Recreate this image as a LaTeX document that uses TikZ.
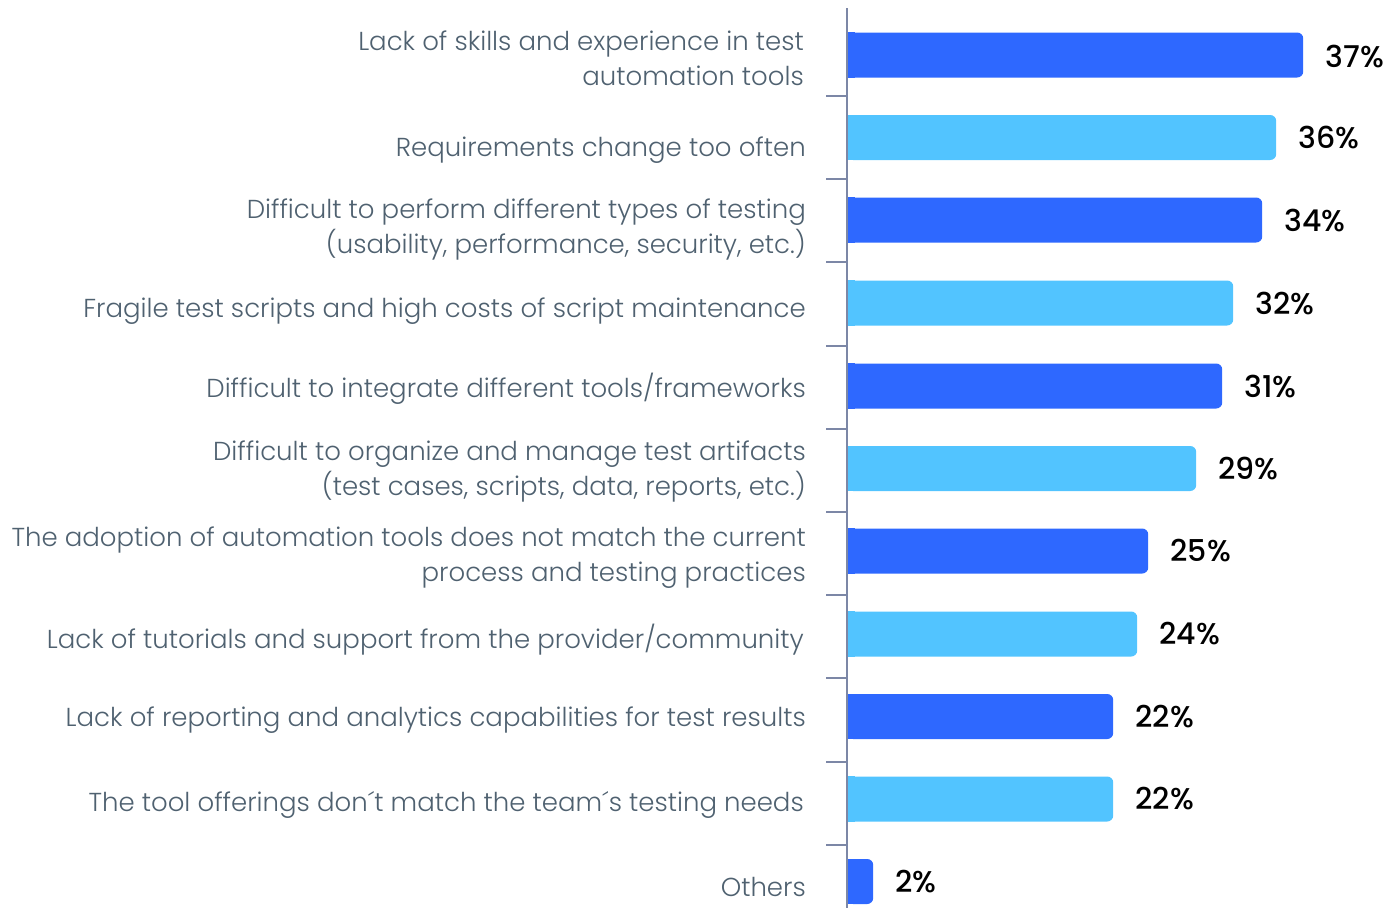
\documentclass[tikz,border=0pt]{standalone}
\usepackage{fontspec}
\setmainfont{Poppins}[UprightFont=* Light, BoldFont=* Medium]
\usetikzlibrary{positioning}

\definecolor{darkbar}{HTML}{2E68FF}
\definecolor{lightbar}{HTML}{52C4FF}
\definecolor{axisgray}{HTML}{7C87A6}
\definecolor{labelgray}{HTML}{4F6170}

\tikzset{
	bar/.style={fill=#1, rounded corners=6pt, anchor=west, inner sep=0pt, minimum height=45pt},
	lbl/.style={text=labelgray, align=right, inner sep=0pt, font=\fontsize{26}{35}\selectfont},
	pct/.style={text=black, inner sep=0pt, font=\fontsize{30}{35}\selectfont\bfseries},
	tick/.style={draw=axisgray, line width=2pt},
}

\begin{document}
\begin{tikzpicture}[x=1pt, y=-1pt]
	\useasboundingbox (0,0) rectangle (1389,908);

	% bars
	\node[bar=darkbar, minimum width=456pt]		(bar1)	at (847,55)		{};
	\node[bar=lightbar, minimum width=429pt]	(bar2)	at (847,137.5)	{};
	\node[bar=darkbar, minimum width=415pt]		(bar3)	at (847,220)	{};
	\node[bar=lightbar, minimum width=386pt]	(bar4)	at (847,303)	{};
	\node[bar=darkbar, minimum width=375pt]		(bar5)	at (847,386)	{};
	\node[bar=lightbar, minimum width=349pt]	(bar6)	at (847,468.5)	{};
	\node[bar=darkbar, minimum width=301pt]		(bar7)	at (847,551)	{};
	\node[bar=lightbar, minimum width=290pt]	(bar8)	at (847,634)	{};
	\node[bar=darkbar, minimum width=266pt]		(bar9)	at (847,716.5)	{};
	\node[bar=lightbar, minimum width=266pt]	(bar10)	at (847,799)	{};
	\node[bar=darkbar, minimum width=26pt]		(bar11)	at (847,881.5)	{};

	% square ends at the axis
	\foreach \b/\c in {bar1/darkbar, bar2/lightbar, bar3/darkbar, bar4/lightbar, bar5/darkbar, bar6/lightbar, bar7/darkbar, bar8/lightbar, bar9/darkbar, bar10/lightbar, bar11/darkbar}
		\fill[\c] ([xshift=-1pt]\b.north west) rectangle ([xshift=8pt]\b.south west);

	% axis
	\draw[tick] (847,8) -- (847,908);
	\foreach \i in {0,...,9}
		\draw[tick] (826,{96+83.2*\i}) -- (847,{96+83.2*\i});

	% values
	\node[pct, right=22pt of bar1, yshift=-2pt]	(v1)	{37\%};
	\node[pct, right=22pt of bar2]	(v2)	{36\%};
	\node[pct, right=22pt of bar3]	(v3)	{34\%};
	\node[pct, right=22pt of bar4]	(v4)	{32\%};
	\node[pct, right=22pt of bar5]	(v5)	{31\%};
	\node[pct, right=22pt of bar6]	(v6)	{29\%};
	\node[pct, right=22pt of bar7]	(v7)	{25\%};
	\node[pct, right=22pt of bar8]	(v8)	{24\%};
	\node[pct, right=22pt of bar9]	(v9)	{22\%};
	\node[pct, right=22pt of bar10]	(v10)	{22\%};
	\node[pct, right=22pt of bar11]	(v11)	{2\%};

	% labels
	\node[lbl, left=43pt of bar1, yshift=-3pt]	(l1)	{Lack of skills and experience in test\\automation tools};
	\node[lbl, left=41pt of bar2, yshift=-13pt]	(l2)	{Requirements change too often};
	\node[lbl, left=41pt of bar3, yshift=-10pt]	(l3)	{Difficult to perform different types of testing\\(usability, performance, security, etc.)};
	\node[lbl, left=41pt of bar4, yshift=-8pt]	(l4)	{Fragile test scripts and high costs of script maintenance};
	\node[lbl, left=41pt of bar5, yshift=-3pt]	(l5)	{Difficult to integrate different tools/frameworks};
	\node[lbl, left=41pt of bar6, yshift=-3pt]	(l6)	{Difficult to organize and manage test artifacts\\(test cases, scripts, data, reports, etc.)};
	\node[lbl, left=41pt of bar7, yshift=-7pt]	(l7)	{The adoption of automation tools does not match the current\\process and testing practices};
	\node[lbl, left=43pt of bar8, yshift=-6pt]	(l8)	{Lack of tutorials and support from the provider/community};
	\node[lbl, left=41pt of bar9, yshift=-4pt]	(l9)	{Lack of reporting and analytics capabilities for test results};
	\node[lbl, left=43pt of bar10, yshift=-6pt]	(l10)	{The tool offerings don´t match the team´s testing needs};
	\node[lbl, left=41pt of bar11, yshift=-5pt]	(l11)	{Others};
\end{tikzpicture}
\end{document}
